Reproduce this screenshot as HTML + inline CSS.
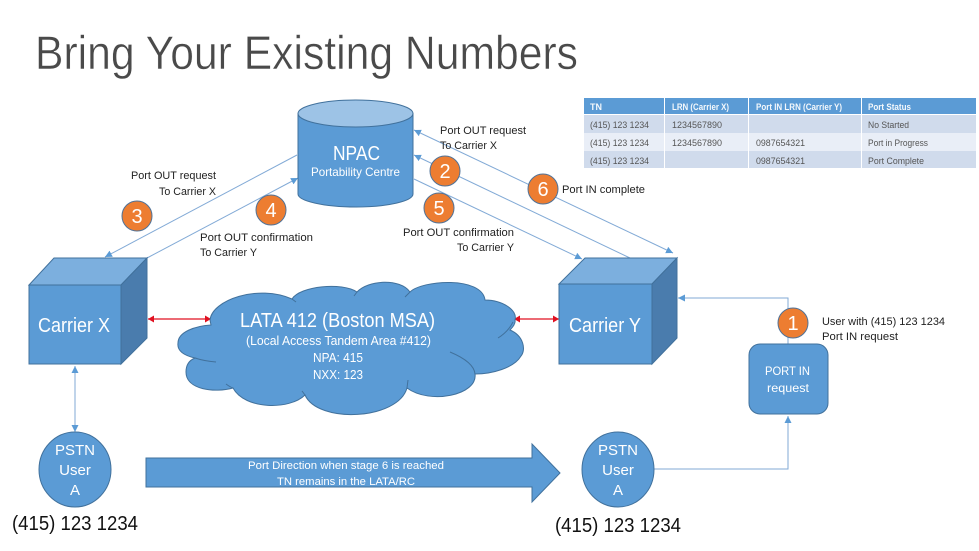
<!DOCTYPE html>
<html><head><meta charset="utf-8"><style>
html,body{margin:0;padding:0;background:#fff;width:979px;height:551px;overflow:hidden}
svg{display:block}
text{font-family:"Liberation Sans",sans-serif}
.w{fill:#fff}.k{fill:#222;font-size:11px}.t{font-size:9px;fill:#555}.h{font-size:9px;fill:#f4f8fc}
.l{stroke:#82aad6;stroke-width:1;fill:none}
.b{fill:#5b9bd5;stroke:#41719c;stroke-width:1}
.o{fill:#ed7d31;stroke:#4f7298;stroke-width:1}
</style></head><body>
<svg width="979" height="551" viewBox="0 0 979 551" xmlns="http://www.w3.org/2000/svg">
<defs>
<marker id="a" markerWidth="8" markerHeight="8" refX="7" refY="3.5" orient="auto-start-reverse" markerUnits="userSpaceOnUse"><path d="M0 0L7 3.5L0 7z" fill="#5b9bd5"/></marker>
<marker id="r" markerWidth="7" markerHeight="8" refX="6" refY="3.5" orient="auto-start-reverse" markerUnits="userSpaceOnUse"><path d="M0 0L6 3.5L0 7z" fill="#e01020"/></marker>
</defs>

<text x="35" y="69" font-size="47" fill="#4a4a4a" stroke="#fff" stroke-width="0.5" textLength="543" lengthAdjust="spacingAndGlyphs">Bring Your Existing Numbers</text>

<!-- connectors -->
<path class="l" d="M297 155L105 257" marker-end="url(#a)"/>
<path class="l" d="M147 258L298 178" marker-end="url(#a)"/>
<path class="l" d="M673 253L414 130" marker-start="url(#a)" marker-end="url(#a)"/>
<path class="l" d="M630 258L414 155" marker-end="url(#a)"/>
<path class="l" d="M414 179L582 259" marker-end="url(#a)"/>
<path class="l" d="M75 366V432" marker-start="url(#a)" marker-end="url(#a)"/>
<path class="l" d="M788 344V298H678" marker-end="url(#a)"/>
<path class="l" d="M654 469H788V416" marker-end="url(#a)"/>
<path d="M148 319H211" stroke="#e01020" stroke-width="1.2" fill="none" marker-start="url(#r)" marker-end="url(#r)"/>
<path d="M514 319H559" stroke="#e01020" stroke-width="1.2" fill="none" marker-start="url(#r)" marker-end="url(#r)"/>

<!-- NPAC -->
<path class="b" d="M298 113V194C298 201 324 207 356 207S413 201 413 194V113"/>
<ellipse cx="355.500" cy="113.500" rx="57.500" ry="13.500" fill="#9dc3e6" stroke="#41719c"/>
<text class="w" x="333" y="160" font-size="20" textLength="47" lengthAdjust="spacingAndGlyphs">NPAC</text>
<text class="w" x="311" y="176" font-size="12" textLength="89" lengthAdjust="spacingAndGlyphs">Portability Centre</text>

<!-- Carrier X -->
<path d="M29 285L54 258H147L121 285z" fill="#7cafde" stroke="#41719c"/>
<path d="M121 285L147 258V338L121 364z" fill="#4a7cad" stroke="#41719c"/>
<rect class="b" x="29" y="285" width="92" height="79"/>
<text class="w" x="38" y="332" font-size="20" textLength="72" lengthAdjust="spacingAndGlyphs">Carrier X</text>

<!-- Carrier Y -->
<path d="M559 284L585 258H677L652 284z" fill="#7cafde" stroke="#41719c"/>
<path d="M652 284L677 258V338L652 364z" fill="#4a7cad" stroke="#41719c"/>
<rect class="b" x="559" y="284" width="93" height="80"/>
<text class="w" x="569" y="332" font-size="20" textLength="72" lengthAdjust="spacingAndGlyphs">Carrier Y</text>

<!-- Cloud -->
<path class="b" d="M210 320C212 300 258 284 292 299C300 286 342 282 357 292C368 280 400 278 410 292C422 280 482 276 485 300C502 300 518 310 515 320C516 324 512 328 510 330C524 336 526 350 521 356C514 368 492 374 475 374C478 395 430 405 407 388C398 420 318 424 305 395C290 410 245 410 233 388C215 393 186 390 186 372C186 364 190 360 195 358C182 355 177 350 178 343C178 332 195 326 211 325z"/>
<path d="M216 362Q204 361 195 358M233 388Q230 387 226 384M305 395L302 391M407 388L408 380M475 374Q474 362 450 352M498 338Q508 332 513 322M292 299L296 302M357 292L354 296M410 292L405 297" fill="none" stroke="#41719c"/>
<text class="w" x="240" y="327" font-size="20" textLength="195" lengthAdjust="spacingAndGlyphs">LATA 412 (Boston MSA)</text>
<text class="w" x="246" y="345" font-size="13" textLength="185" lengthAdjust="spacingAndGlyphs">(Local Access Tandem Area #412)</text>
<text class="w" x="313" y="362" font-size="13" textLength="50" lengthAdjust="spacingAndGlyphs">NPA: 415</text>
<text class="w" x="313" y="379" font-size="13" textLength="50" lengthAdjust="spacingAndGlyphs">NXX: 123</text>

<!-- PSTN -->
<ellipse class="b" cx="75" cy="469.500" rx="36" ry="37.500"/>
<ellipse class="b" cx="618" cy="469.500" rx="36" ry="37.500"/>
<g class="w" font-size="15" text-anchor="middle">
<text x="75" y="455">PSTN</text><text x="75" y="475">User</text><text x="75" y="495">A</text>
<text x="618" y="455">PSTN</text><text x="618" y="475">User</text><text x="618" y="495">A</text>
</g>

<text x="12" y="530" font-size="20" fill="#111" textLength="126" lengthAdjust="spacingAndGlyphs">(415) 123 1234</text>
<text x="555" y="532" font-size="20" fill="#111" textLength="126" lengthAdjust="spacingAndGlyphs">(415) 123 1234</text>

<!-- Big arrow -->
<path class="b" d="M146 458H532V444L560 473L532 502V487H146z"/>
<text class="w" x="248" y="469" font-size="11" textLength="196" lengthAdjust="spacingAndGlyphs">Port Direction when stage 6 is reached</text>
<text class="w" x="277" y="485" font-size="11" textLength="138" lengthAdjust="spacingAndGlyphs">TN remains in the LATA/RC</text>

<!-- Port box -->
<rect class="b" x="749" y="344" width="79" height="70" rx="11"/>
<text class="w" x="765" y="375" font-size="12" textLength="45" lengthAdjust="spacingAndGlyphs">PORT IN</text>
<text class="w" x="767" y="392" font-size="12" textLength="42" lengthAdjust="spacingAndGlyphs">request</text>

<!-- badges -->
<circle class="o" cx="793" cy="323" r="15"/><circle class="o" cx="445" cy="171" r="15"/>
<circle class="o" cx="137" cy="216" r="15"/><circle class="o" cx="271" cy="210" r="15"/>
<circle class="o" cx="439" cy="208" r="15"/><circle class="o" cx="543" cy="189" r="15"/>
<g class="w" font-size="20" text-anchor="middle">
<text x="793" y="330">1</text><text x="445" y="178">2</text><text x="137" y="223">3</text>
<text x="271" y="217">4</text><text x="439" y="215">5</text><text x="543" y="196">6</text>
</g>

<!-- labels -->
<text class="k" x="131" y="179" textLength="85" lengthAdjust="spacingAndGlyphs">Port OUT request</text>
<text class="k" x="159" y="195" textLength="57" lengthAdjust="spacingAndGlyphs">To Carrier X</text>
<text class="k" x="200" y="241" textLength="113" lengthAdjust="spacingAndGlyphs">Port OUT confirmation</text>
<text class="k" x="200" y="256" textLength="57" lengthAdjust="spacingAndGlyphs">To Carrier Y</text>
<text class="k" x="440" y="134" textLength="86" lengthAdjust="spacingAndGlyphs">Port OUT request</text>
<text class="k" x="440" y="149" textLength="57" lengthAdjust="spacingAndGlyphs">To Carrier X</text>
<text class="k" x="562" y="193" textLength="83" lengthAdjust="spacingAndGlyphs">Port IN complete</text>
<text class="k" x="403" y="236" textLength="111" lengthAdjust="spacingAndGlyphs">Port OUT confirmation</text>
<text class="k" x="457" y="251" textLength="57" lengthAdjust="spacingAndGlyphs">To Carrier Y</text>
<text class="k" x="822" y="325" textLength="123" lengthAdjust="spacingAndGlyphs">User with (415) 123 1234</text>
<text class="k" x="822" y="340" textLength="76" lengthAdjust="spacingAndGlyphs">Port IN request</text>

<!-- table -->
<rect x="584" y="98" width="392" height="17" fill="#5b9bd5"/>
<rect x="584" y="115" width="392" height="18" fill="#d0dbec"/>
<rect x="584" y="133" width="392" height="18" fill="#e9eef7"/>
<rect x="584" y="151" width="392" height="17" fill="#d0dbec"/>
<path d="M584 114.500H976M664.500 98V168M748.500 98V168M861.500 98V168" stroke="#fff" stroke-width="1" fill="none"/>
<text class="h" x="590" y="110" font-weight="bold">TN</text>
<text class="h" x="672" y="110" textLength="57" lengthAdjust="spacingAndGlyphs" font-weight="bold">LRN (Carrier X)</text>
<text class="h" x="756" y="110" textLength="86" lengthAdjust="spacingAndGlyphs" font-weight="bold">Port IN LRN (Carrier Y)</text>
<text class="h" x="868" y="110" textLength="43" lengthAdjust="spacingAndGlyphs" font-weight="bold">Port Status</text>
<text class="t" x="590" y="128" textLength="59" lengthAdjust="spacingAndGlyphs">(415) 123 1234</text>
<text class="t" x="672" y="128" textLength="50" lengthAdjust="spacingAndGlyphs">1234567890</text>
<text class="t" x="868" y="128" textLength="41" lengthAdjust="spacingAndGlyphs">No Started</text>
<text class="t" x="590" y="146" textLength="59" lengthAdjust="spacingAndGlyphs">(415) 123 1234</text>
<text class="t" x="672" y="146" textLength="50" lengthAdjust="spacingAndGlyphs">1234567890</text>
<text class="t" x="756" y="146" textLength="49" lengthAdjust="spacingAndGlyphs">0987654321</text>
<text class="t" x="868" y="146" textLength="60" lengthAdjust="spacingAndGlyphs">Port in Progress</text>
<text class="t" x="590" y="164" textLength="59" lengthAdjust="spacingAndGlyphs">(415) 123 1234</text>
<text class="t" x="756" y="164" textLength="49" lengthAdjust="spacingAndGlyphs">0987654321</text>
<text class="t" x="868" y="164" textLength="56" lengthAdjust="spacingAndGlyphs">Port Complete</text>
</svg>
</body></html>
